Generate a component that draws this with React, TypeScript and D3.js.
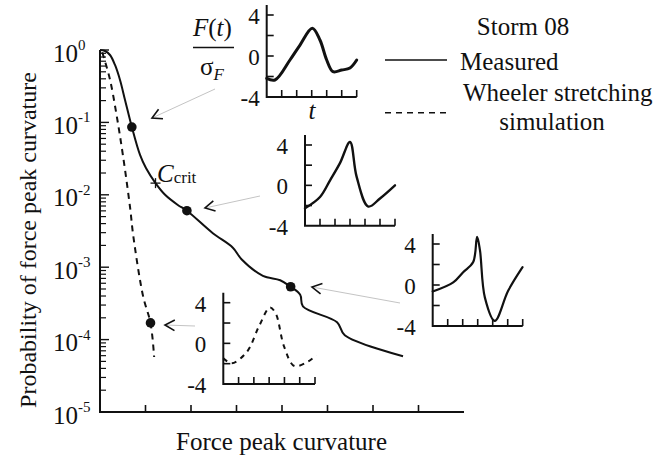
import React from "react";
import * as d3 from "d3";

// main curves: force peak curvature vs probability
const measuredX = [0, 0.11, 0.22, 0.33, 0.44, 0.55, 0.7, 0.88, 1.01, 1.22, 1.43, 1.71, 1.91, 2.48, 2.92, 3.11, 3.58, 3.96, 4.19, 4.4, 4.46, 5.21, 5.38, 6.66];
const measuredP = [1, 0.968, 0.853, 0.621, 0.385, 0.204, 0.0863, 0.0355, 0.0234, 0.0145, 0.01, 0.00724, 0.00603, 0.00295, 0.00186, 0.00129, 0.000759, 0.000661, 0.000537, 0.000417, 0.000288, 0.000174, 0.000115, 0.0000589];
const wheelerX = [0.05, 0.22, 0.37, 0.51, 0.66, 0.73, 0.95, 1.11, 1.19];
const wheelerP = [0.93, 0.389, 0.12, 0.0331, 0.00676, 0.00275, 0.000389, 0.00017, 0.0000575];

const measuredDots = [
  { x: 0.7, p: 0.0863 },
  { x: 1.91, p: 0.00603 },
  { x: 4.19, p: 0.000537 },
];
const wheelerDot = { x: 1.11, p: 0.00017 };
const cCrit = { x: 1.22, p: 0.0145 };

const yDecades = [0, -1, -2, -3, -4, -5];
const xTicks = [1, 2, 3, 4, 5, 6, 7];

// inset time series F(t)/sigma_F
const inset1T = [0, 0.55, 1.55, 2.22, 3.04, 3.55, 4.0, 4.42, 5.0, 5.55, 6.0];
const inset1V = [-2.18, -2.34, -0.39, 1.07, 2.7, 1.56, -0.39, -1.53, -1.37, -1.17, -0.39];
const inset2T = [0, 1, 1.67, 2.33, 3.0, 3.44, 4.22, 5.0, 6.0];
const inset2V = [-2.27, -1.15, 0.5, 2.2, 4.3, 0.86, -2.1, -1.3, 0];
const inset3T = [0, 1.37, 2.03, 2.7, 2.96, 3.15, 3.48, 4.14, 5.03, 5.99];
const inset3V = [-0.63, 0.26, 1.25, 2.24, 4.7, 3.4, -1.23, -3.5, -0.56, 1.74];
const inset4T = [0, 0.55, 1.55, 2.32, 3.05, 3.43, 3.98, 4.65, 5.54, 6.09];
const inset4V = [-1.47, -1.96, -0.82, 1.63, 3.53, 2.94, -0.33, -2.23, -1.8, -1.15];

const insetYTicks = [4, 2, 0, -2];
const insetYLabels = [4, 0, -4];
const insetXTicks = [1, 2, 3, 4, 5, 6];

const FONT = "'Liberation Serif', 'Times New Roman', serif";
const INK = "#111";
const FS = 25;

const x = d3.scaleLinear().domain([0, 8]).range([100, 464]);
const y = d3.scaleLog().domain([1e-5, 1]).range([412, 50]);

const Arrow = ({ from, to }: { from: [number, number]; to: [number, number] }) => {
  const a = Math.atan2(from[1] - to[1], from[0] - to[0]);
  const len = 11;
  const spread = 0.5;
  const p1 = [to[0] + len * Math.cos(a + spread), to[1] + len * Math.sin(a + spread)];
  const p2 = [to[0] + len * Math.cos(a - spread), to[1] + len * Math.sin(a - spread)];
  return (
    <g>
      <line x1={from[0]} y1={from[1]} x2={to[0]} y2={to[1]} stroke="#c4c4c4" strokeWidth={1} />
      <path d={`M${p1[0]},${p1[1]}L${to[0]},${to[1]}L${p2[0]},${p2[1]}`} fill="none" stroke={INK} strokeWidth={1.6} />
    </g>
  );
};

const Inset = ({
  x0, bottom, top4, axisTop, t, v, labelGap, dashed, width, sw,
}: {
  x0: number; bottom: number; top4: number; axisTop: number; t: number[]; v: number[];
  labelGap: number; dashed?: boolean; width: number; sw: number;
}) => {
  const sx = d3.scaleLinear().domain([0, 6]).range([x0, x0 + width]);
  const sy = d3.scaleLinear().domain([-4, 4]).range([bottom, top4]);
  const line = d3
    .line<number>()
    .x((_, i) => sx(t[i]))
    .y((d) => sy(d))
    .curve(d3.curveCatmullRom.alpha(0.5));
  return (
    <g>
      <path d={`M${x0},${axisTop}V${bottom}H${x0 + width}`} fill="none" stroke={INK} strokeWidth={2} />
      {insetYTicks.map((d) => (
        <line key={"y" + d} x1={x0} x2={x0 + 7} y1={sy(d)} y2={sy(d)} stroke={INK} strokeWidth={1.6} />
      ))}
      {insetXTicks.map((d) => (
        <line key={"x" + d} x1={sx(d)} x2={sx(d)} y1={bottom} y2={bottom - 7} stroke={INK} strokeWidth={1.6} />
      ))}
      {insetYLabels.map((d) => (
        <text key={"l" + d} x={x0 - labelGap} y={sy(d) + 9} textAnchor="end" fontSize={23} fontFamily={FONT} fill={INK}>
          {d < 0 ? "-" + Math.abs(d) : d}
        </text>
      ))}
      <path
        d={line(v) || ""}
        fill="none"
        stroke={INK}
        strokeWidth={sw}
        strokeDasharray={dashed ? "5,5" : undefined}
        strokeLinejoin="round"
        strokeLinecap={dashed ? "butt" : "round"}
      />
    </g>
  );
};

export default function App() {
  const measuredLine = d3
    .line<number>()
    .x((_, i) => x(measuredX[i]))
    .y((d) => y(d))
    .curve(d3.curveCatmullRom.alpha(0.5));
  const wheelerLine = d3
    .line<number>()
    .x((_, i) => x(wheelerX[i]))
    .y((d) => y(d))
    .curve(d3.curveCatmullRom.alpha(0.5));

  const minor: number[] = [];
  yDecades.slice(1).forEach((e) => {
    for (let k = 2; k <= 9; k++) minor.push(k * Math.pow(10, e));
  });

  const [x0, x1] = x.range();
  const [yb, yt] = y.range();

  return (
    <svg width={656} height={459} style={{ position: "absolute", left: 0, top: 0, background: "#fff" }} fontFamily={FONT}>
      {/* main axes */}
      <path d={`M${x0},${yt}V${yb}H${x1}`} fill="none" stroke={INK} strokeWidth={2} />
      {yDecades.map((e) => (
        <g key={e}>
          <line x1={x0} x2={x0 + 9} y1={y(Math.pow(10, e))} y2={y(Math.pow(10, e))} stroke={INK} strokeWidth={1.4} />
          <text x={78} y={y(Math.pow(10, e)) + 11.5} textAnchor="end" fontSize={FS} fill={INK}>10</text>
          <text x={78} y={y(Math.pow(10, e))} fontSize={15} fill={INK}>{e === 0 ? "0" : "-" + Math.abs(e)}</text>
        </g>
      ))}
      {minor.map((d, i) => (
        <line key={i} x1={x0} x2={x0 + 6} y1={y(d)} y2={y(d)} stroke={INK} strokeWidth={1.2} />
      ))}
      {xTicks.map((d) => (
        <line key={d} x1={x(d)} x2={x(d)} y1={yb} y2={yb - 7} stroke={INK} strokeWidth={1.6} />
      ))}
      <text x={281.5} y={450} textAnchor="middle" fontSize={FS} fill={INK}>Force peak curvature</text>
      <text transform="translate(36,240) rotate(-90)" textAnchor="middle" fontSize={24} fill={INK}>
        Probability of force peak curvature
      </text>

      {/* curves */}
      <path d={measuredLine(measuredP) || ""} fill="none" stroke={INK} strokeWidth={2} />
      <path d={wheelerLine(wheelerP) || ""} fill="none" stroke={INK} strokeWidth={2} strokeDasharray="6,5" />
      {measuredDots.map((d, i) => (
        <circle key={i} cx={x(d.x)} cy={y(d.p)} r={4.8} fill={INK} />
      ))}
      <circle cx={x(wheelerDot.x)} cy={y(wheelerDot.p)} r={4.8} fill={INK} />
      <g stroke={INK} strokeWidth={1.3}>
        <line x1={x(cCrit.x) - 5} x2={x(cCrit.x) + 5} y1={y(cCrit.p)} y2={y(cCrit.p)} />
        <line x1={x(cCrit.x)} x2={x(cCrit.x)} y1={y(cCrit.p) - 5} y2={y(cCrit.p) + 5} />
      </g>
      <text x={157} y={182} fontSize={FS} fill={INK}>
        <tspan fontStyle="italic">C</tspan>
        <tspan fontSize={17} dy={1}>crit</tspan>
      </text>

      {/* arrows */}
      <Arrow from={[215, 89]} to={[152, 118]} />
      <Arrow from={[260, 196]} to={[205, 208]} />
      <Arrow from={[400, 303]} to={[312, 287]} />
      <Arrow from={[195, 326]} to={[165, 325]} />

      {/* insets */}
      <Inset x0={266.7} bottom={97} top4={15} axisTop={5} t={inset1T} v={inset1V} labelGap={7} width={90} sw={3} />
      <Inset x0={305} bottom={225.7} top4={145} axisTop={135} t={inset2T} v={inset2V} labelGap={17} width={90} sw={2.4} />
      <Inset x0={432.7} bottom={326} top4={244} axisTop={234} t={inset3T} v={inset3V} labelGap={17} width={90} sw={2.2} />
      <Inset x0={223.3} bottom={384} top4={302.7} axisTop={292.7} t={inset4T} v={inset4V} labelGap={17} width={91.7} sw={2} dashed />

      <text x={193} y={36} fontSize={FS} fill={INK}>
        <tspan fontStyle="italic">F</tspan>(<tspan fontStyle="italic">t</tspan>)
      </text>
      <line x1={193} x2={234} y1={47.5} y2={47.5} stroke={INK} strokeWidth={1.4} />
      <text x={200} y={75} fontSize={FS} fill={INK}>
        σ<tspan fontSize={17} fontStyle="italic" dy={5}>F</tspan>
      </text>
      <text x={312} y={119} textAnchor="middle" fontSize={FS} fontStyle="italic" fill={INK}>t</text>

      {/* legend */}
      <text x={523} y={35} textAnchor="middle" fontSize={FS} fill={INK}>Storm 08</text>
      <line x1={385} x2={447} y1={60} y2={60} stroke={INK} strokeWidth={1.6} />
      <text x={460} y={70} fontSize={FS} fill={INK}>Measured</text>
      <line x1={385} x2={447} y1={112.7} y2={112.7} stroke={INK} strokeWidth={1.6} strokeDasharray="6,5" />
      <text x={463} y={101} fontSize={FS} fill={INK}>Wheeler stretching</text>
      <text x={552} y={130} textAnchor="middle" fontSize={FS} fill={INK}>simulation</text>
    </svg>
  );
}
